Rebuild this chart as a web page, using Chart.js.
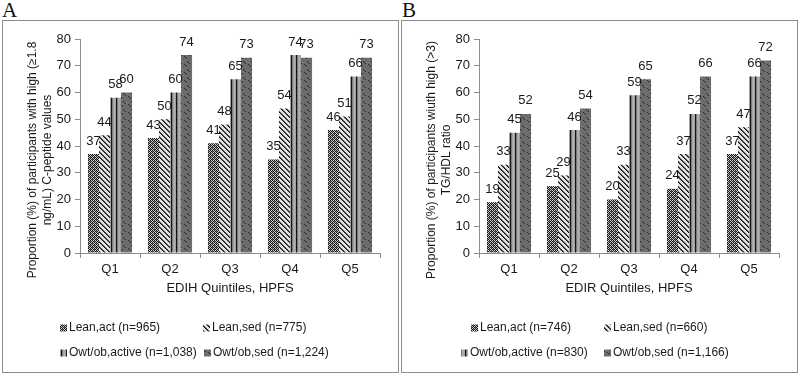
<!DOCTYPE html>
<html><head><meta charset="utf-8">
<script src="https://cdn.jsdelivr.net/npm/chart.js@4.4.1/dist/chart.umd.min.js"></script>
<style>
html,body{margin:0;padding:0;background:#fff;width:800px;height:374px;overflow:hidden;position:relative;}
.panel{position:absolute;border:1px solid #8c8c8c;box-sizing:border-box;}
.letter{position:absolute;font-family:"Liberation Serif",serif;font-size:21px;color:#111;line-height:21px;}
canvas{display:block;}
</style></head><body>
<div class="letter" style="left:2px;top:0px">A</div>
<div class="letter" style="left:402px;top:0px">B</div>
<div class="panel" style="left:2px;top:20px;width:397px;height:353px"><canvas id="cA" width="395" height="351" style="width:395px;height:351px"></canvas></div>
<div class="panel" style="left:401px;top:20px;width:397px;height:353px"><canvas id="cB" width="395" height="351" style="width:395px;height:351px"></canvas></div>
<script>
// ---- data ----
const categories = ['Q1','Q2','Q3','Q4','Q5'];
const yTicksMax = 80;
const yTicksStep = 10;

const labelsA = ['Lean,act (n=965)','Lean,sed (n=775)','Owt/ob,active (n=1,038)','Owt/ob,sed (n=1,224)'];
const leanActA = [37, 43, 41, 35, 46];
const leanSedA = [44, 50, 48, 54, 51];
const owtActA  = [58, 60, 65, 74, 66];
const owtSedA  = [60, 74, 73, 73, 73];
const xTitleA = 'EDIH Quintiles, HPFS';
const yTitleA = ['Proportion (%) of participants with high (\u22651.8','ng/mL) C-peptide values'];

const labelsB = ['Lean,act (n=746)','Lean,sed (n=660)','Owt/ob,active (n=830)','Owt/ob,sed (n=1,166)'];
const leanActB = [19, 25, 20, 24, 37];
const leanSedB = [33, 29, 33, 37, 47];
const owtActB  = [45, 46, 59, 52, 66];
const owtSedB  = [52, 54, 65, 66, 72];
const xTitleB = 'EDIR Quintiles, HPFS';
const yTitleB = ['Proportion (%) of participants wiuth high (>3)','TG/HDL ratio'];

// ---- patterns ----
const FONT = '"Liberation Sans", Arial, sans-serif';
function tile(w,h,fn){const c=document.createElement('canvas');c.width=w;c.height=h;const g=c.getContext('2d');fn(g);return c;}
function px(g,x,y,col){g.fillStyle=col;g.fillRect(x,y,1,1);}
const tiles = [
  tile(4,4,g=>{g.fillStyle='#d0d0d0';g.fillRect(0,0,4,4);for(let y=0;y<4;y++)for(let x=0;x<4;x++){if((x+y)%2===0)px(g,x,y,'#161616');}px(g,1,2,'#6a6a6a');px(g,3,0,'#6a6a6a');}),
  tile(5,5,g=>{g.fillStyle='#e2e2e2';g.fillRect(0,0,5,5);for(let i=0;i<5;i++){px(g,i,i,'#151515');px(g,(i+1)%5,i,'#555');}}),
  tile(5,1,g=>{const cols=['#a4a4a4','#b0b0b0','#a0a0a0','#151515','#7c7c7c'];cols.forEach((c,i)=>px(g,i,0,c));}),
  tile(8,8,g=>{g.fillStyle='#6c6c6c';g.fillRect(0,0,8,8);
     [[0,0],[1,1],[2,2]].forEach(p=>px(g,p[0],p[1],'#2a2a2a'));
     [[5,3],[6,4],[7,5]].forEach(p=>px(g,p[0],p[1],'#2a2a2a'));
     px(g,3,1,'#8a8a8a');px(g,7,6,'#8a8a8a');})
];

// ---- plugins ----
const barLabels = {
  id:'barLabels',
  afterDatasetsDraw(chart){
    const ctx=chart.ctx; ctx.save();
    ctx.font='13px '+FONT; ctx.fillStyle='#1a1a1a'; ctx.textAlign='center'; ctx.textBaseline='middle';
    chart.data.datasets.forEach((ds,i)=>{
      chart.getDatasetMeta(i).data.forEach((bar,j)=>{ ctx.fillText(String(ds.data[j]), bar.x, bar.y-13); });
    });
    ctx.restore();
  }
};
const yTitle = {
  id:'yTitle',
  afterDraw(chart,args,opts){
    const ctx=chart.ctx; ctx.save();
    ctx.font='12px '+FONT; ctx.fillStyle='#1a1a1a'; ctx.textAlign='center'; ctx.textBaseline='middle';
    opts.lines.forEach((t,i)=>{
      ctx.save(); ctx.translate(opts.x0+i*15, opts.cy); ctx.rotate(-Math.PI/2); ctx.fillText(t,0,0); ctx.restore();
    });
    ctx.restore();
  }
};
const gridLegend = {
  id:'gridLegend',
  afterDraw(chart,args,opts){
    const ctx=chart.ctx; ctx.save();
    ctx.font='12px '+FONT; ctx.textBaseline='middle'; ctx.textAlign='left';
    chart.data.datasets.forEach((ds,i)=>{
      const p=opts.pos[i];
      ctx.fillStyle=ds.backgroundColor; ctx.fillRect(p[0], p[1]-3.5, 7, 7);
      ctx.fillStyle='#1a1a1a'; ctx.fillText(ds.label, p[0]+9, p[1]);
    });
    ctx.restore();
  }
};

function makeChart(id, labels, series, xTitle, yLines, legendPos){
  const cv=document.getElementById(id); const ctx=cv.getContext('2d');
  const pats=tiles.map(t=>ctx.createPattern(t,'repeat'));
  return new Chart(ctx,{
    type:'bar',
    data:{labels:categories, datasets:series.map((d,i)=>({label:labels[i], data:d, backgroundColor:pats[i], borderWidth:0, categoryPercentage:0.735, barPercentage:1}))},
    options:{
      responsive:false, animation:false, devicePixelRatio:1,
      layout:{padding:{left:0,right:18,top:18,bottom:69}},
      plugins:{legend:{display:false}, tooltip:{enabled:false},
        yTitle:{lines:yLines, x0:30, cy:139}, gridLegend:{pos:legendPos}},
      scales:{
        x:{grid:{display:true,drawOnChartArea:false,drawTicks:true,tickLength:5,color:'#8c8c8c',offset:true},
           border:{color:'#8c8c8c'},
           ticks:{font:{family:FONT,size:13},color:'#1a1a1a',padding:4},
           title:{display:true,text:xTitle,font:{family:FONT,size:13},color:'#1a1a1a',padding:{top:0,bottom:7}},
           afterFit(s){s.height=50;}},
        y:{min:0,max:yTicksMax,
           grid:{display:true,drawOnChartArea:false,drawTicks:true,tickLength:5,color:'#8c8c8c'},
           border:{color:'#8c8c8c'},
           ticks:{stepSize:yTicksStep,font:{family:FONT,size:13},color:'#1a1a1a',padding:4},
           afterFit(s){s.width=77;}}
      }
    },
    plugins:[barLabels,yTitle,gridLegend]
  });
}

makeChart('cA', labelsA, [leanActA,leanSedA,owtActA,owtSedA], xTitleA, yTitleA,
  [[57,307],[200,307],[57,332],[201,332]]);
makeChart('cB', labelsB, [leanActB,leanSedB,owtActB,owtSedB], xTitleB, yTitleB,
  [[69,307],[202,307],[59,332],[202,332]]);
</script>
</body></html>
